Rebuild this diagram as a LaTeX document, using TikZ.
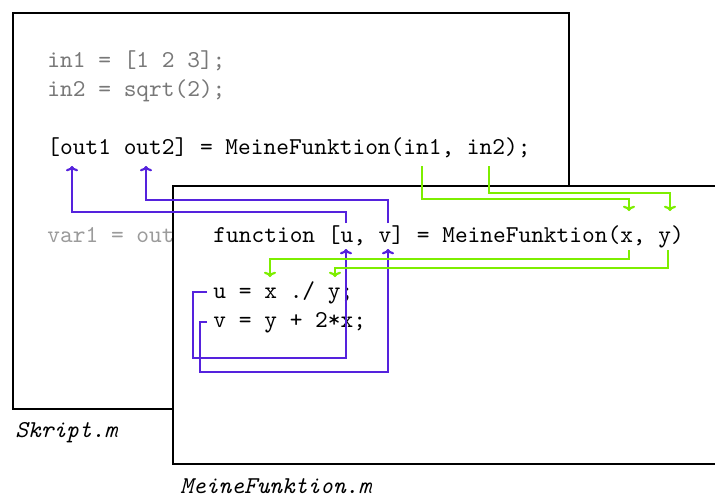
\documentclass[tikz,border=0pt]{standalone}
\usetikzlibrary{arrows.meta}
\definecolor{argpurple}{RGB}{85,34,221}
\definecolor{arggreen}{RGB}{125,238,0}
\definecolor{codegray}{RGB}{120,120,120}
\definecolor{lightgray}{RGB}{155,155,155}
\begin{document}
\begin{tikzpicture}[x=0.413pt,y=-0.413pt,font=\ttfamily]
\tikzset{
  filebox/.style={draw=black,line width=0.8pt,fill=white},
  code/.style={anchor=base west,inner sep=0pt},
  outarrow/.style={draw=argpurple,line width=0.6pt,-{To[length=2.2pt,width=5pt,line width=0.9pt]}},
  inarrow/.style={draw=arggreen,line width=0.6pt,-{To[length=2.2pt,width=5pt,line width=0.9pt]}},
}
\useasboundingbox (0,0) rectangle (715,495);
\clip (0,0) rectangle (715,495);
% Skript.m
\draw[filebox] (13,13) rectangle (569,409);
\node[code,text=codegray] (in1) at (47,67) {in1 = [1 2 3];};
\node[code,text=codegray] (in2) at (47,96) {in2 = sqrt(2);};
\node[code] (call) at (47,154) {[out1 out2] = MeineFunktion(in1, in2);};
\node[code,text=lightgray] (var1) at (47,242) {var1 = out};
\node[code,font=\ttfamily\itshape] (skript) at (15,437) {Skript.m};
% MeineFunktion.m
\draw[filebox] (740,186) -- (173,186) -- (173,464) -- (740,464);
\node[code] (fun) at (213,242) {function [u, v] = MeineFunktion(x, y)};
\node[code] (uline) at (213,298) {u = x ./ y;};
\node[code] (vline) at (213,327) {v = y + 2*x;};
\node[code,font=\ttfamily\itshape] (mfile) at (180,493) {MeineFunktion.m};
% anchor points
\coordinate (out1) at (72,166);
\coordinate (out2) at (146,166);
\coordinate (uout) at (346,223);
\coordinate (vout) at (388,223);
\coordinate (uin) at (346,249);
\coordinate (vin) at (388,249);
\coordinate (uorig) at (207,292);
\coordinate (vorig) at (207,322);
\coordinate (in1s) at (422,166);
\coordinate (in2s) at (489,166);
\coordinate (xin) at (629,211);
\coordinate (yin) at (670,211);
\coordinate (xout) at (629,250);
\coordinate (yout) at (668,250);
\coordinate (xuse) at (270,277);
\coordinate (yuse) at (335,277);
% outputs
\draw[outarrow] (uout) |- (72,212) -- (out1);
\draw[outarrow] (vout) |- (146,200) -- (out2);
\draw[outarrow] (uorig) -| (193,358) -| (uin);
\draw[outarrow] (vorig) -| (200,372) -| (vin);
% inputs
\draw[inarrow] (in1s) |- (629,199) -- (xin);
\draw[inarrow] (in2s) |- (670,193) -- (yin);
\draw[inarrow] (xout) |- (270,259) -- (xuse);
\draw[inarrow] (yout) |- (335,268) -- (yuse);
\end{tikzpicture}
\end{document}
